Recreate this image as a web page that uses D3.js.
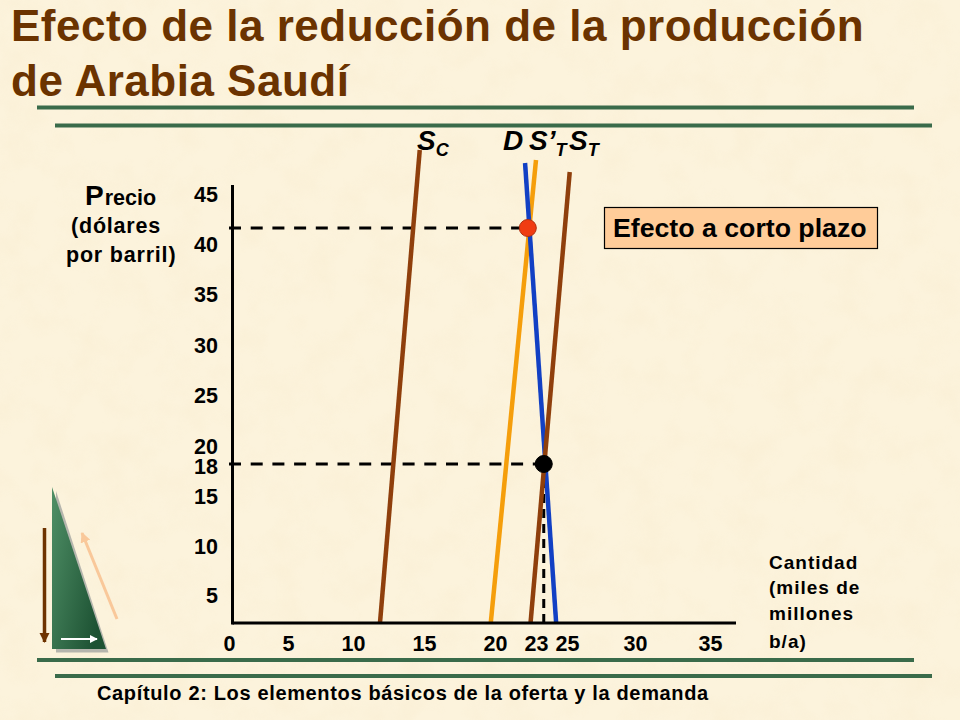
<!DOCTYPE html>
<html><head><meta charset="utf-8">
<style>html,body{margin:0;padding:0;background:#fbf0d6}svg{display:block}text{font-family:"Liberation Sans",Arial,sans-serif;font-weight:bold}</style>
<script src="https://cdn.jsdelivr.net/npm/d3@7"></script></head><body>
<svg id="c" width="960" height="720"></svg>
<script>
const titleLines = ["Efecto de la reducción de la producción","de Arabia Saudí"];
const footer = "Capítulo 2: Los elementos básicos de la oferta y la demanda";
const xTicks = [0,5,10,15,20,23,25,30,35];
const yTicks = [5,10,15,18,20,25,30,35,40,45];
// curves: name, quantity at the bottom and top, price at the bottom and top
const curveNames = ["SC","D","S’T","ST"];
const curveQBottom = [11.9,24.3,19.7,22.6];
const curveQTop = [14.7,22.2,23.0,25.2];
const curvePBottom = [2.3,2.3,2.3,2.3];
const curvePTop = [49.5,48.2,48.5,47.3];
const curveColors = ["#8f3f0c","#1240c4","#f59e0b","#8f3f0c"];
const equilibriumQ = [22.4,23.5];
const equilibriumP = [41.7,18];
const equilibriumFill = ["#f03c12","#000000"];
const yAxisLabel = ["(dólares","por barril)"];
const xAxisLabel = ["Cantidad","(miles de","millones","b/a)"];
const effectLabel = "Efecto a corto plazo";

const svg = d3.select("#c");
const defs = svg.append("defs");
const f = defs.append("filter").attr("id","paper").attr("x",0).attr("y",0).attr("width","100%").attr("height","100%");
f.append("feTurbulence").attr("type","fractalNoise").attr("baseFrequency","0.03").attr("numOctaves",4).attr("seed",7);
f.append("feColorMatrix").attr("type","matrix").attr("values","0 0 0 0 0.93  0 0 0 0 0.82  0 0 0 0 0.60  1.5 0 0 0 -0.62");
const gr = defs.append("linearGradient").attr("id","tri").attr("x1",0).attr("y1",0).attr("x2",1).attr("y2",0.6);
gr.append("stop").attr("offset","0").attr("stop-color","#4f8f66");
gr.append("stop").attr("offset","1").attr("stop-color","#1d5233");
[["aBrown","#6e3300",3],["aPeach","#f9c89a",3.4],["aWhite","#ffffff",4]].forEach(([id,c,s])=>{
  defs.append("marker").attr("id",id).attr("viewBox","0 0 10 10").attr("refX",9).attr("refY",5)
    .attr("markerWidth",s).attr("markerHeight",s).attr("orient","auto")
    .append("path").attr("d","M0,0L10,5L0,10Z").attr("fill",c);
});
svg.append("rect").attr("width",960).attr("height",720).attr("fill","#fcf3dc");
svg.append("rect").attr("width",960).attr("height",720).attr("filter","url(#paper)").attr("opacity",0.45);

// scales
const x = d3.scaleLinear().domain(xTicks).range([229,288,353,424,495,536,567,635,710]);
const y = d3.scaleLinear().domain([0,...yTicks]).range([646,596,547,497,464,447,396,346,295,245,195]);

// title
const title = svg.append("g").attr("fill","#6b3300").style("font-size","44px").style("letter-spacing","0.5px");
title.append("text").attr("x",11).attr("y",41).text(titleLines[0]);
title.append("text").attr("x",11).attr("y",96).text(titleLines[1]);

// rules
const rules = [[37,914,107.5],[55,932,125.5],[37,914,660],[55,932,676]];
svg.append("g").selectAll("line").data(rules).join("line")
  .attr("x1",d=>d[0]).attr("x2",d=>d[1]).attr("y1",d=>d[2]).attr("y2",d=>d[2])
  .attr("stroke","#3a6b4a").attr("stroke-width",4);

// ornament
svg.append("path").attr("d","M56,491L56,652.5L108.5,652.5Z").attr("fill","#b5b5ad");
svg.append("path").attr("d","M52,487L52,649L106,649Z").attr("fill","url(#tri)");
svg.append("line").attr("x1",44.5).attr("y1",528).attr("x2",44.5).attr("y2",642).attr("stroke","#6e3300").attr("stroke-width",3.5).attr("marker-end","url(#aBrown)");
svg.append("line").attr("x1",117).attr("y1",619).attr("x2",82).attr("y2",533).attr("stroke","#f9c89a").attr("stroke-width",3).attr("marker-end","url(#aPeach)");
svg.append("line").attr("x1",61).attr("y1",639).attr("x2",97).attr("y2",639).attr("stroke","#fff").attr("stroke-width",2).attr("marker-end","url(#aWhite)");

// guides
const guides = svg.append("g").attr("stroke","#000").attr("stroke-width",3);
equilibriumQ.forEach((q,i)=>{
  guides.append("line").attr("x1",x(0)).attr("x2",x(q)).attr("y1",y(equilibriumP[i])).attr("y2",y(equilibriumP[i])).attr("stroke-dasharray","12,9.7");
});
guides.append("line").attr("x1",x(equilibriumQ[1])).attr("x2",x(equilibriumQ[1])).attr("y1",y(equilibriumP[1])).attr("y2",y(curvePBottom[0])).attr("stroke-dasharray","9,6");

// curves
const line = d3.line().x(d=>x(d[0])).y(d=>y(d[1]));
const order = [0,2,1,3];
svg.append("g").selectAll("path").data(order).join("path")
  .attr("d",i=>line([[curveQBottom[i],curvePBottom[i]],[curveQTop[i],curvePTop[i]]]))
  .attr("fill","none").attr("stroke",i=>curveColors[i]).attr("stroke-width",4.5);

// axes
const axisG = svg.append("g");
axisG.append("line").attr("x1",232.5).attr("x2",232.5).attr("y1",185).attr("y2",y(curvePBottom[0])+1.5).attr("stroke","#000").attr("stroke-width",3);
axisG.append("line").attr("x1",232.5).attr("x2",x(35)+26).attr("y1",y(curvePBottom[0])).attr("y2",y(curvePBottom[0])).attr("stroke","#000").attr("stroke-width",3);
const xAx = svg.append("g").attr("transform","translate(0,636)").call(d3.axisBottom(x).tickValues(xTicks).tickSize(0).tickPadding(0).tickFormat(d3.format("d")));
const yAx = svg.append("g").attr("transform","translate(218,0)").call(d3.axisLeft(y).tickValues(yTicks).tickSize(0).tickPadding(0).tickFormat(d3.format("d")));
[xAx,yAx].forEach(a=>{a.select(".domain").remove();a.selectAll("text").style("font-size","21.5px").style("font-family","Liberation Sans").style("font-weight","bold").attr("fill","#000");});
yAx.selectAll(".tick").filter(d=>d===18).select("text").attr("y",3);

// points
svg.append("g").selectAll("circle").data(equilibriumQ).join("circle")
  .attr("cx",d=>x(d)).attr("cy",(d,i)=>y(equilibriumP[i])).attr("r",8.5)
  .attr("fill",(d,i)=>equilibriumFill[i]).attr("stroke",(d,i)=>i?"#000":"#b03010").attr("stroke-width",1);

// curve labels
const labelX = [417,503,529,569];
const cl = svg.append("g").attr("fill","#000").style("font-style","italic").style("font-size","28px");
curveNames.forEach((n,i)=>{
  const t = cl.append("text").attr("x",labelX[i]).attr("y",150);
  if(n==="D"){t.text(n);return;}
  t.append("tspan").text(n.slice(0,-1));
  t.append("tspan").attr("dy",6).style("font-size","18px").text(n.slice(-1));
});

// effect box
svg.append("rect").attr("x",604.5).attr("y",207.5).attr("width",273).attr("height",41).attr("fill","#ffcc99").attr("stroke","#000").attr("stroke-width",1.2);
svg.append("text").attr("x",613).attr("y",237).attr("fill","#000").style("font-size","26.7px").text(effectLabel);

// axis titles
const py = svg.append("text").attr("x",85).attr("y",205).attr("fill","#000");
py.append("tspan").style("font-size","28px").text("P");
py.append("tspan").style("font-size","21.5px").attr("dx",1).text("recio");
[[71,233],[66,262]].forEach((p,i)=>svg.append("text").attr("x",p[0]).attr("y",p[1]).attr("fill","#000").style("font-size","21.5px").style("letter-spacing","0.8px").text(yAxisLabel[i]));
svg.append("g").selectAll("text").data(xAxisLabel).join("text")
  .attr("x",769).attr("y",(d,i)=>[569,594,620,648][i]).attr("fill","#000").style("font-size","19px").style("letter-spacing","1px").text(d=>d);

// footer
svg.append("text").attr("x",97).attr("y",700).attr("fill","#000").style("font-size","20px").style("letter-spacing","0.65px").text(footer);
</script></body></html>
